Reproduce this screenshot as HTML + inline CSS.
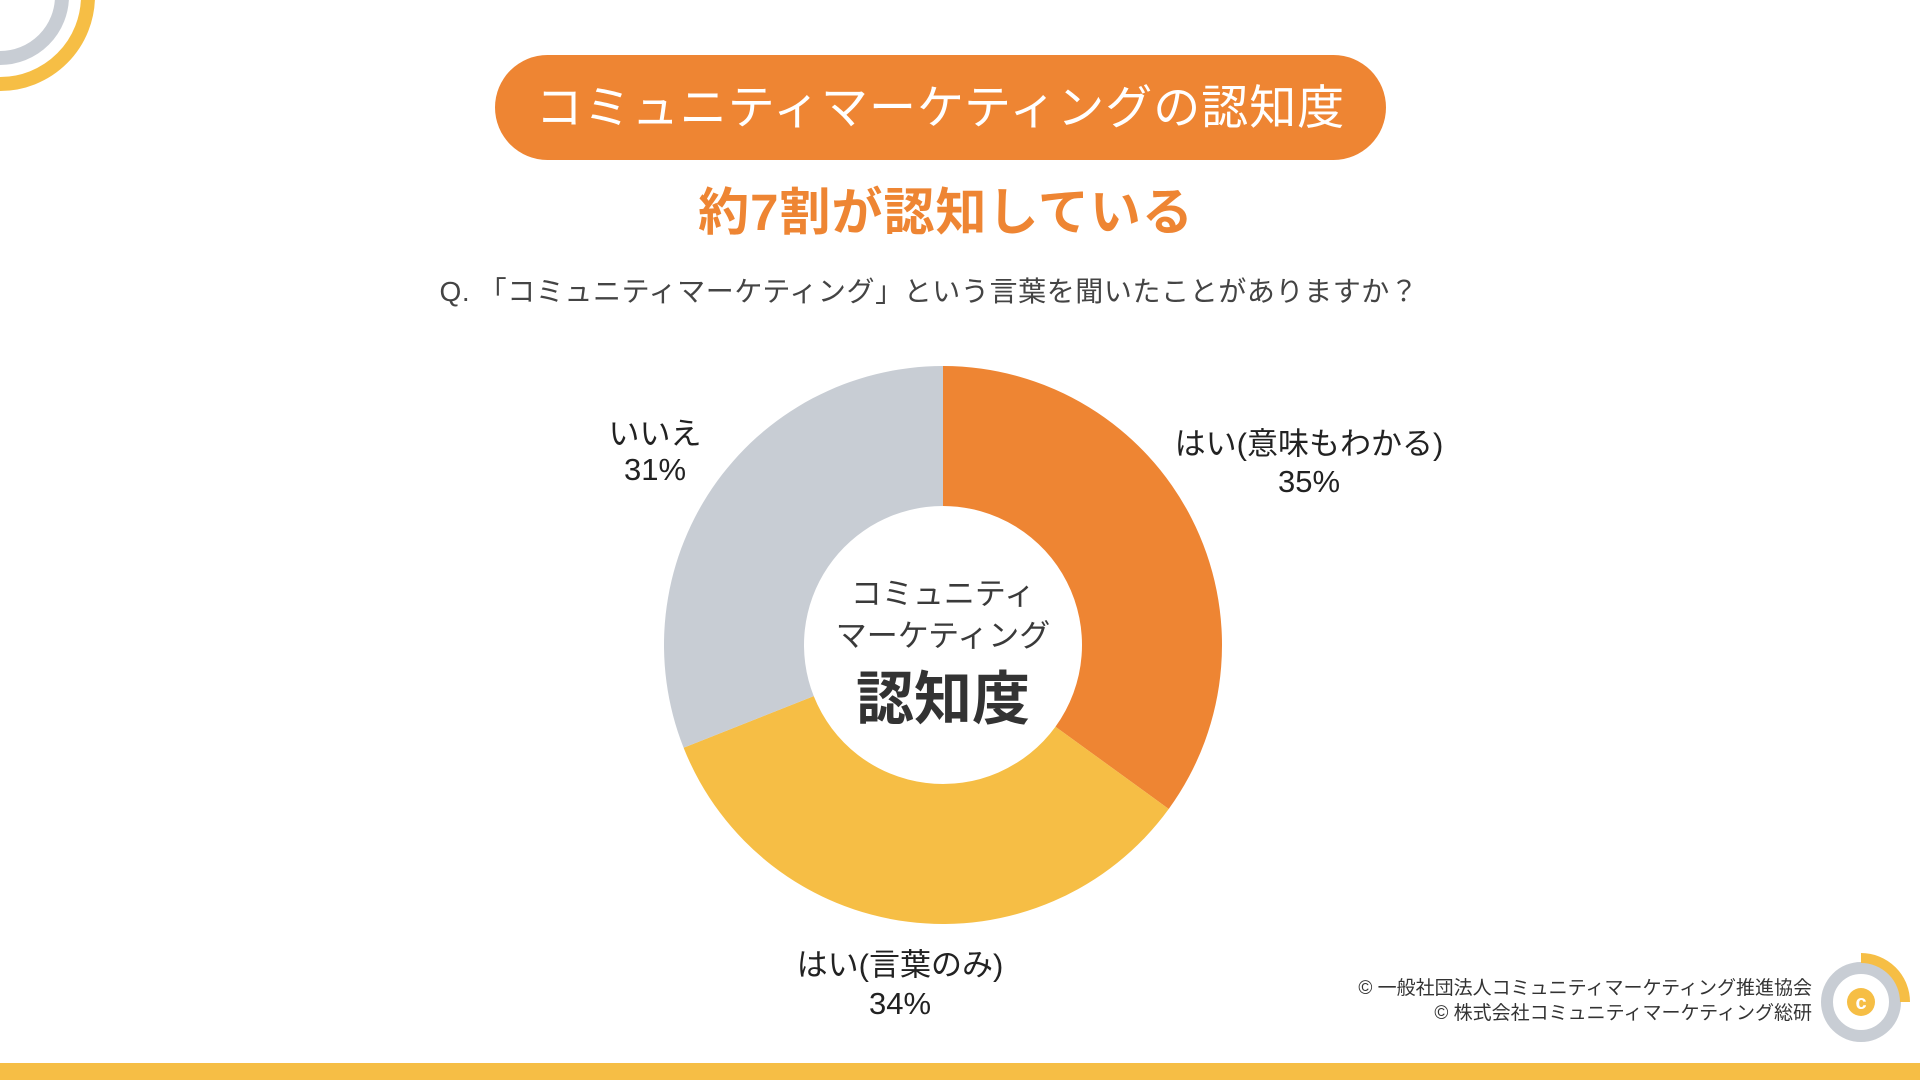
<!DOCTYPE html>
<html><head><meta charset="utf-8"><style>
body{margin:0;width:1920px;height:1080px;background:#fff;position:relative;overflow:hidden;font-family:"Liberation Sans","Noto Sans CJK JP",sans-serif;color:#3a3a3a}
.t{position:absolute;white-space:nowrap;text-align:center;transform:translate(-50%,-50%)}
</style></head><body>
<svg width="120" height="120" style="position:absolute;left:0;top:0">
<circle cx="0" cy="-4" r="88" fill="none" stroke="#F6BE45" stroke-width="14"/>
<circle cx="0" cy="-4" r="62" fill="none" stroke="#C8CDD4" stroke-width="14"/>
</svg>
<div style="position:absolute;left:495px;top:55px;width:891px;height:105px;border-radius:53px;background:#EE8533;color:#fff;font-size:47px;letter-spacing:1px;line-height:105px;text-align:center">コミュニティマーケティングの認知度</div>
<div class="t" style="left:946px;top:208px;font-size:51px;letter-spacing:1px;font-weight:bold;color:#EE8533">約7割が認知している</div>
<div class="t" style="left:929px;top:290px;font-size:28px;letter-spacing:0.6px;color:#444">Q. 「コミュニティマーケティング」という言葉を聞いたことがありますか？</div>
<svg id="chart" width="1920" height="1080" style="position:absolute;left:0;top:0"></svg>
<div class="t" style="left:943px;top:591px;font-size:31px">コミュニティ</div>
<div class="t" style="left:943px;top:633px;font-size:31px">マーケティング</div>
<div class="t" style="left:943px;top:694px;font-size:58px;font-weight:bold;color:#333">認知度</div>
<div id="labels"></div>
<div style="position:absolute;right:108px;top:976px;font-size:19px;line-height:25px;text-align:right;color:#333">© 一般社団法人コミュニティマーケティング推進協会<br>© 株式会社コミュニティマーケティング総研</div>
<svg width="100" height="100" style="position:absolute;left:1811px;top:952px">
<circle cx="50" cy="50" r="34" fill="none" stroke="#C8CDD4" stroke-width="12"/>
<path d="M50 6 A44 44 0 0 1 94 50" fill="none" stroke="#F6BE45" stroke-width="10"/>
<circle cx="50" cy="50" r="14" fill="#F6BE45"/>
<text x="50" y="57" font-size="20" font-weight="bold" fill="#fff" text-anchor="middle" font-family="Liberation Sans">c</text>
</svg>
<div style="position:absolute;left:0;top:1063px;width:1920px;height:17px;background:#F6BE45"></div>
<script>
const categories=["はい(意味もわかる)","はい(言葉のみ)","いいえ"];
const values=[35,34,31];
const valueLabels=["35%","34%","31%"];
const colors=["#EE8533","#F6BE45","#C8CDD4"];
const cx=943,cy=645,R=279,r=139;
const svg=document.getElementById('chart');
const total=values.reduce((a,b)=>a+b,0);
function pt(a,rad){return [cx+rad*Math.sin(a),cy-rad*Math.cos(a)];}
let start=0;
const labelPos=[[1309,441,1309,482],[900,962,900,1004],[655,431,655,470]];
values.forEach((v,i)=>{
 const end=start+v/total*2*Math.PI;
 const large=(end-start)>Math.PI?1:0;
 const [x1,y1]=pt(start,R),[x2,y2]=pt(end,R),[x3,y3]=pt(end,r),[x4,y4]=pt(start,r);
 const p=document.createElementNS('http://www.w3.org/2000/svg','path');
 p.setAttribute('d',`M${x1} ${y1}A${R} ${R} 0 ${large} 1 ${x2} ${y2}L${x3} ${y3}A${r} ${r} 0 ${large} 0 ${x4} ${y4}Z`);
 p.setAttribute('fill',colors[i]);
 
 
 svg.appendChild(p);
 const d1=document.createElement('div');d1.className='t';
 d1.style.cssText=`left:${labelPos[i][0]}px;top:${labelPos[i][1]}px;font-size:31px;color:#222`;
 d1.textContent=categories[i];
 
 
 const d2=document.createElement('div');d2.className='t';
 d2.style.cssText=`left:${labelPos[i][2]}px;top:${labelPos[i][3]}px;font-size:31px;color:#222`;
 d2.textContent=valueLabels[i];
 
 
 document.getElementById('labels').append(d1,d2);
 start=end;
});
</script>
</body></html>
